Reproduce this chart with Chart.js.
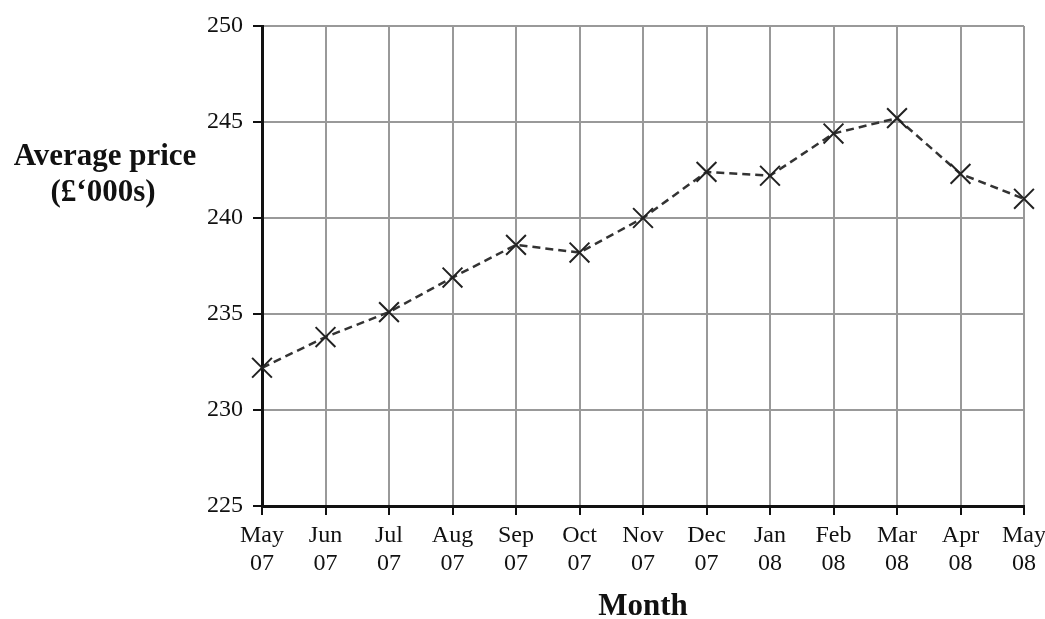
<!DOCTYPE html>
<html>
<head>
<meta charset="utf-8">
<script src="https://cdn.jsdelivr.net/npm/chart.js@4.4.1/dist/chart.umd.min.js"></script>
<style>
html,body{margin:0;padding:0;background:#fff;}
#wrap{width:1045px;height:619px;}
</style>
</head>
<body>
<div id="wrap"><canvas id="c" width="1045" height="619"></canvas></div>
<script>
const months = [['May','07'],['Jun','07'],['Jul','07'],['Aug','07'],['Sep','07'],['Oct','07'],['Nov','07'],['Dec','07'],['Jan','08'],['Feb','08'],['Mar','08'],['Apr','08'],['May','08']];
const avgPrice = [232.2, 233.8, 235.1, 236.9, 238.6, 238.2, 240.0, 242.4, 242.2, 244.4, 245.2, 242.3, 241.0];
const yTitleLines = ['Average price', '(£‘000s)'];
const xTitle = 'Month';

const serif = "'Liberation Serif', 'DejaVu Serif', serif";

const yTitlePlugin = {
  id: 'yTitle',
  afterDraw(chart) {
    const ctx = chart.ctx;
    const a = chart.chartArea;
    ctx.save();
    ctx.fillStyle = '#111';
    ctx.font = 'bold 31px ' + serif;
    ctx.textAlign = 'center';
    ctx.textBaseline = 'alphabetic';
    ctx.fillText(yTitleLines[0], 105, a.top + 139);
    ctx.fillText(yTitleLines[1], 103, a.top + 175);
    ctx.restore();
  }
};

new Chart(document.getElementById('c'), {
  type: 'line',
  data: {
    labels: months,
    datasets: [{
      data: avgPrice,
      borderColor: '#333',
      borderWidth: 2.5,
      borderDash: [8, 5],
      pointStyle: 'crossRot',
      pointRadius: 14,
      pointBorderColor: '#222',
      pointBorderWidth: 2,
      pointBackgroundColor: '#222',
      tension: 0,
      fill: false
    }]
  },
  options: {
    responsive: false,
    animation: false,
    devicePixelRatio: 1,
    layout: { padding: { top: 26, right: 21, left: 0, bottom: 0 } },
    plugins: { legend: { display: false }, tooltip: { enabled: false } },
    scales: {
      x: {
        offset: false,
        grid: { color: '#999', lineWidth: 2, tickColor: '#111', tickLength: 9, tickWidth: 2 },
        border: { color: '#111', width: 3 },
        ticks: { color: '#111', font: { family: serif, size: 24, lineHeight: 1.2 }, maxRotation: 0, autoSkip: false, padding: 6 },
        title: { display: true, text: xTitle, color: '#111', font: { family: serif, size: 31, weight: 'bold', lineHeight: 1 }, padding: { top: 0, bottom: -3 } },
        afterFit(s) { s.height = 113; s.paddingLeft = 0; s.paddingRight = 0; }
      },
      y: {
        min: 225, max: 250,
        grid: { color: '#999', lineWidth: 2, tickColor: '#111', tickLength: 9, tickWidth: 2 },
        border: { color: '#111', width: 3 },
        ticks: { stepSize: 5, color: '#111', font: { family: serif, size: 24 }, padding: 10 },
        afterFit(s) { s.width = 262; s.paddingTop = 0; s.paddingBottom = 0; }
      }
    }
  },
  plugins: [yTitlePlugin]
});
</script>
</body>
</html>
